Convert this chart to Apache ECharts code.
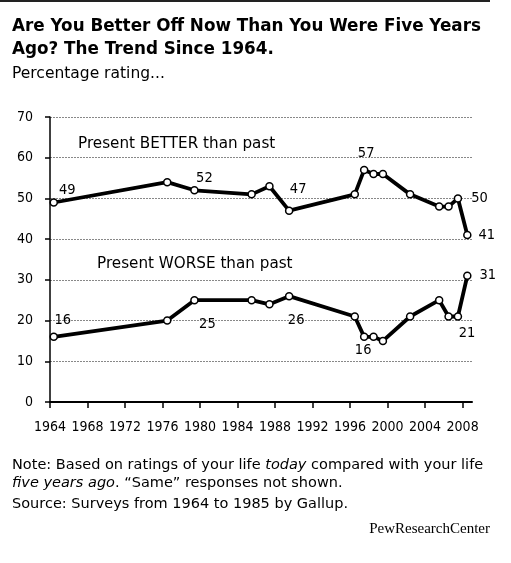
<!DOCTYPE html>
<html>
<head>
<meta charset="utf-8">
<script src="https://cdn.jsdelivr.net/npm/echarts@6/dist/echarts.min.js"></script>
<style>
  html, body { margin: 0; padding: 0; background: #fff; }
  #chart { width: 511px; height: 563px; }
</style>
</head>
<body>
<div id="chart"></div>
<script>
// survey dates (plotted mid-year)
const surveyDates = [1964.4, 1976.5, 1979.4, 1985.5, 1987.4, 1989.5, 1996.5, 1997.5,
  1998.5, 1999.5, 2002.4, 2005.5, 2006.5, 2007.5, 2008.5];
const better = [49, 54, 52, 51, 53, 47, 51, 57, 56, 56, 51, 48, 48, 50, 41];
const worse = [16, 20, 25, 25, 24, 26, 21, 16, 16, 15, 21, 25, 21, 21, 31];
const yearTicks = [1964, 1968, 1972, 1976, 1980, 1984, 1988, 1992, 1996, 2000, 2004, 2008];

const FONT = '"DejaVu Sans", "Noto Sans", sans-serif';
const NUM_FONT = '"DejaVu Sans Condensed", "DejaVu Sans", sans-serif';

// which points carry a value label, and where
const betterLabels = {
  0: { position: 'right', offset: [-4, -12] },
  2: { position: 'top', offset: [10, 5] },
  5: { position: 'top', offset: [9, -5] },
  7: { position: 'top', offset: [2, 0] },
  13: { position: 'right', offset: [4, 0] },
  14: { position: 'right', offset: [2, 0] }
};
const worseLabels = {
  0: { position: 'top', offset: [9, 0] },
  2: { position: 'bottom', offset: [13, 7] },
  5: { position: 'bottom', offset: [7, 7] },
  7: { position: 'bottom', offset: [-1, -3] },
  13: { position: 'bottom', offset: [9, 0] },
  14: { position: 'right', offset: [3, -1] }
};

function buildData(values, labels) {
  return values.map(function (v, i) {
    const item = { value: [surveyDates[i], v] };
    if (labels[i]) {
      item.label = Object.assign({ show: true }, labels[i]);
    }
    return item;
  });
}

const lineSeries = function (name, values, labels) {
  return {
    name: name,
    type: 'line',
    data: buildData(values, labels),
    symbol: 'circle',
    symbolSize: 7,
    showAllSymbol: true,
    lineStyle: { color: '#000', width: 3.8 },
    itemStyle: { color: '#fff', borderColor: '#000', borderWidth: 1.5 },
    label: {
      show: false,
      color: '#000',
      fontFamily: NUM_FONT,
      fontSize: 14.5,
      formatter: function (p) { return p.value[1]; }
    },
    emphasis: { disabled: true },
    animation: false,
    z: 5
  };
};

const chart = echarts.init(document.getElementById('chart'));
chart.setOption({
  backgroundColor: '#fff',
  grid: { left: 50, right: 39, top: 117, bottom: 161 },
  xAxis: {
    type: 'value',
    min: 1964,
    max: 2009,
    interval: 4,
    splitLine: { show: false },
    axisLine: { lineStyle: { color: '#000', width: 2 } },
    axisTick: { length: 6, lineStyle: { color: '#000', width: 1.5 }, customValues: yearTicks },
    axisLabel: {
      customValues: yearTicks,
      formatter: function (v) { return String(v); },
      margin: 18,
      color: '#000',
      fontFamily: NUM_FONT,
      fontSize: 14
    }
  },
  yAxis: {
    type: 'value',
    min: 0,
    max: 70,
    interval: 10,
    axisLine: { show: true, lineStyle: { color: '#000', width: 1.5 } },
    axisTick: { show: true, length: 5, lineStyle: { color: '#000', width: 1.5 } },
    axisLabel: { margin: 17, color: '#000', fontFamily: NUM_FONT, fontSize: 14 },
    splitLine: { lineStyle: { color: '#888', width: 1, type: [2, 1] } }
  },
  series: [
    lineSeries('Present BETTER than past', better, betterLabels),
    lineSeries('Present WORSE than past', worse, worseLabels)
  ],
  graphic: [
    { type: 'rect', shape: { x: 0, y: 0, width: 490, height: 2 }, style: { fill: '#222' } },
    {
      type: 'text', left: 12, top: 15,
      style: {
        text: 'Are You Better Off Now Than You Were Five Years\nAgo? The Trend Since 1964.',
        font: 'bold 16.8px ' + FONT, fill: '#000', lineHeight: 23
      }
    },
    {
      type: 'text', left: 12, top: 66,
      style: { text: 'Percentage rating...', font: '15.5px ' + FONT, fill: '#000' }
    },
    {
      type: 'text', left: 78, top: 137,
      style: { text: 'Present BETTER than past', font: '15.2px ' + FONT, fill: '#000' }
    },
    {
      type: 'text', left: 97, top: 257,
      style: { text: 'Present WORSE than past', font: '15.2px ' + FONT, fill: '#000' }
    },
    {
      type: 'text', left: 12, top: 456,
      style: {
        text: '{n|Note: Based on ratings of your life }{i|today}{n| compared with your life}\n{i|five years ago}{n|. \u201cSame\u201d responses not shown.}',
        lineHeight: 18,
        rich: {
          n: { font: '14.5px ' + FONT, fill: '#000', lineHeight: 18 },
          i: { font: 'italic 14.5px ' + FONT, fill: '#000', lineHeight: 18 }
        }
      }
    },
    {
      type: 'text', left: 12, top: 497,
      style: { text: 'Source: Surveys from 1964 to 1985 by Gallup.', font: '14.5px ' + FONT, fill: '#000' }
    },
    {
      type: 'text', right: 21, top: 522,
      style: { text: 'PewResearchCenter', font: '15px "Liberation Serif", serif', fill: '#000' }
    }
  ]
});
</script>
</body>
</html>
